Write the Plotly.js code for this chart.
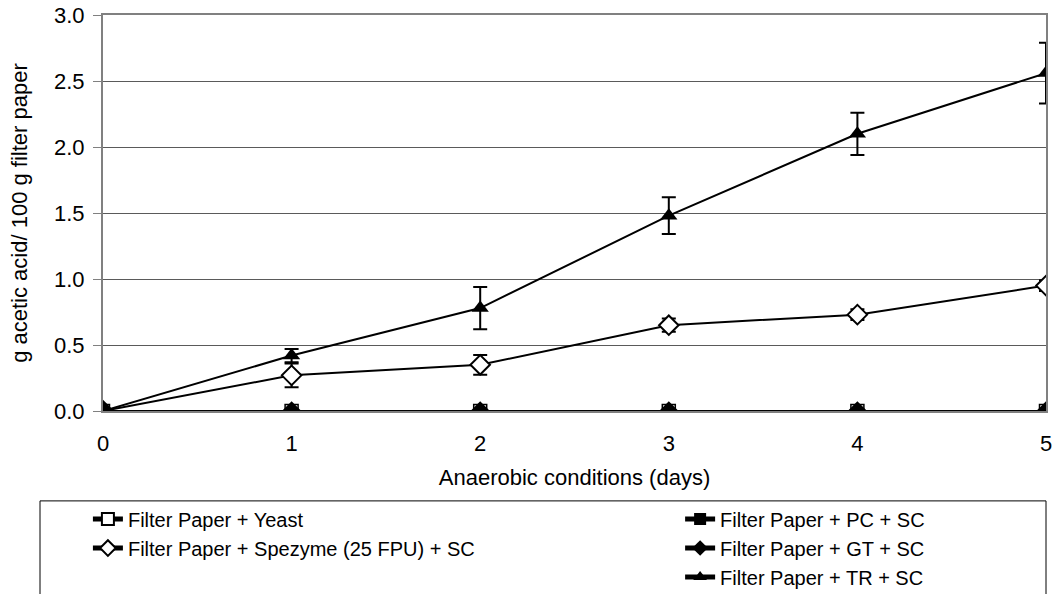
<!DOCTYPE html>
<html><head><meta charset="utf-8">
<script src="https://cdn.plot.ly/plotly-3.0.1.min.js"></script>
<style>html,body{margin:0;padding:0;background:#fff}#chart{width:1057px;height:594px}</style>
</head><body><div id="chart"></div>
<script>
const days = [0, 1, 2, 3, 4, 5];
const yeast = [0, 0, 0, 0, 0, 0];
const spezyme = [0, 0.27, 0.35, 0.65, 0.73, 0.95];
const spezymeErr = [0, 0.09, 0.075, 0.05, 0.04, 0.04];
const pc = [0, 0, 0, 0, 0, 0];
const gt = [0, 0, 0, 0, 0, 0];
const tr = [0, 0.42, 0.78, 1.48, 2.10, 2.56];
const trErr = [0, 0.05, 0.16, 0.14, 0.16, 0.23];
const yTicks = [0, 0.5, 1.0, 1.5, 2.0, 2.5, 3.0];
const yTickText = ['0.0', '0.5', '1.0', '1.5', '2.0', '2.5', '3.0'];

const FONT = 'Liberation Sans, Arial, sans-serif';
const FS = 22;
const LFS = 20;
const line = {color: '#000', width: 2};
const err = a => ({type: 'data', array: a, visible: true, color: '#000', thickness: 2, width: 7});

const traces = [
  {x: days, y: yeast, name: 'Filter Paper + Yeast', mode: 'lines+markers', line: line,
   marker: {symbol: 'square', size: 13, color: '#fff', line: {color: '#000', width: 1.5}}, legend: 'legend'},
  {x: days, y: spezyme, name: 'Filter Paper + Spezyme (25 FPU) + SC', mode: 'lines+markers', line: line,
   error_y: err(spezymeErr),
   marker: {symbol: 'diamond', size: 15, color: '#fff', line: {color: '#000', width: 2}}, legend: 'legend'},
  {x: days, y: pc, name: 'Filter Paper + PC + SC', mode: 'lines+markers', line: line,
   marker: {symbol: 'square', size: 8, color: '#000'}, legend: 'legend2'},
  {x: days, y: gt, name: 'Filter Paper + GT + SC', mode: 'lines+markers', line: line,
   marker: {symbol: 'diamond', size: 15, color: '#000'}, legend: 'legend2'},
  {x: days, y: tr, name: 'Filter Paper + TR + SC', mode: 'lines+markers', line: line,
   error_y: err(trErr),
   marker: {symbol: 'triangle-up', size: 15, color: '#000'}, legend: 'legend2'}
];

const legendBase = {xanchor: 'left', yref: 'container', y: 0.159, yanchor: 'top', orientation: 'v',
  bgcolor: 'rgba(0,0,0,0)', borderwidth: 0, font: {size: LFS, family: FONT}, tracegroupgap: 0,
  itemwidth: 30, itemsizing: 'constant'};

const layout = {
  width: 1057, height: 594,
  margin: {l: 103, r: 11, t: 15, b: 183},
  paper_bgcolor: '#fff', plot_bgcolor: '#fff',
  font: {family: FONT, size: FS, color: '#000'},
  showlegend: true,
  xaxis: {
    range: [0, 5], tickvals: days, ticktext: days.map(String),
    showgrid: false, zeroline: false, showline: true, linecolor: '#808080', linewidth: 2, mirror: true,
    ticks: '', ticklabelstandoff: 12, tickfont: {size: FS, family: FONT}, automargin: false,
    title: {text: 'Anaerobic conditions (days)', font: {size: FS, family: FONT}, standoff: 14}
  },
  yaxis: {
    range: [0, 3], tickvals: yTicks, ticktext: yTickText,
    showgrid: true, gridcolor: '#5a5a5a', gridwidth: 1, zeroline: false,
    showline: true, linecolor: '#808080', linewidth: 2, mirror: true,
    ticks: 'outside', ticklen: 8, tickcolor: '#808080', tickwidth: 1, ticklabelstandoff: 4,
    tickfont: {size: FS, family: FONT}, automargin: false,
    title: {text: 'g acetic acid/ 100 g filter paper', font: {size: FS, family: FONT}, standoff: 20}
  },
  legend: Object.assign({}, legendBase, {x: -0.016}),
  legend2: Object.assign({}, legendBase, {x: 0.612}),
  shapes: [{type: 'rect', xref: 'paper', yref: 'paper', x0: -0.0668, x1: 1.0, y0: -0.227, y1: -0.6,
    line: {color: '#000', width: 1}, fillcolor: 'rgba(0,0,0,0)', layer: 'below'}]
};

Plotly.newPlot('chart', traces, layout, {displayModeBar: false, staticPlot: true});
</script></body></html>
